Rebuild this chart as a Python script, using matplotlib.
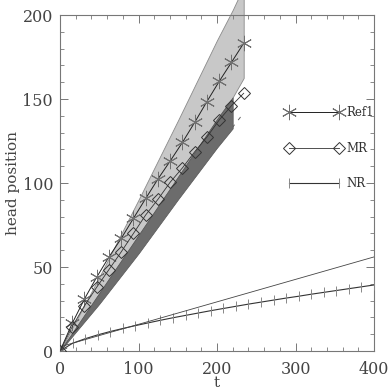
import numpy as np
import matplotlib
matplotlib.use("Agg")
import matplotlib.pyplot as plt
from matplotlib.ticker import MultipleLocator

# reference run (Ref1) and MR, sampled at the same times
t_ref = [0, 15.6, 31.2, 46.8, 62.4, 78, 93.6, 109.2, 124.8, 140.4, 156, 171.6, 187.2, 202.8, 218.4, 234]
ref1 = [0, 16.5, 31, 44, 56, 67, 79, 90.8, 102.4, 113.1, 124.2, 136.1, 148.5, 160.5, 171.8, 183.2]
mr = [0, 14.5, 27, 38, 48.5, 59, 70, 81, 90.3, 100.5, 109, 118.6, 127.4, 137.5, 146, 153.4]

# NR run
t_nr = [0, 16, 32, 48, 64, 80, 96, 112, 128, 144, 160, 176, 192, 208, 224,
        240, 256, 272, 288, 304, 320, 336, 352, 368, 384, 400]
nr = [0, 4.6, 7.3, 9.6, 11.6, 13.4, 15.1, 16.7, 18.3, 19.8, 21.2, 22.6, 24.0, 25.3, 26.6,
      27.9, 29.1, 30.3, 31.5, 32.6, 33.8, 34.9, 36.0, 37.1, 38.2, 39.3]

# thin reference line
t_lin = [0, 400]
lin = [2.5, 56]

# light band around Ref1
t_band1 = [0, 50, 100, 150, 200, 220, 234]
band1_hi = [0, 44, 90, 137, 185, 203, 217]
band1_lo = [0, 34.5, 69, 103.5, 138, 151, 162.5]

# dark band around MR
t_band2 = [0, 50, 100, 150, 200, 220]
band2_hi = [0, 34.5, 69, 103.5, 138, 151]
band2_lo = [0, 28, 58, 90, 121, 132.5]

# dashed lower bound
t_dash = [0, 234]
dash = [0, 141.7]

plt.rcParams['font.family'] = ['DejaVu Serif']
fig = plt.figure(figsize=(3.89, 3.91), dpi=100)
ax = fig.add_axes([60 / 389, 1 - 351 / 391, 314 / 389, 336 / 391])

ax.fill_between(t_band1, band1_lo, band1_hi, color='#c8c8c8', edgecolor='#8a8a8a',
                lw=0.6, zorder=1, clip_on=False)
ax.plot(t_dash, dash, ls=(0, (4, 6)), color='#666666', lw=0.7, zorder=1.5)
ax.fill_between(t_band2, band2_lo, band2_hi, color='#6c6c6c', edgecolor='#555555',
                lw=0.5, zorder=2)

gray = '#707070'
ax.plot(t_ref, ref1, color='#222222', lw=0.7, marker=(6, 2, 0), ms=11,
        mec=gray, mew=0.7, zorder=4, label='Ref1')
ax.plot(t_ref, mr, color='#333333', lw=0.6, marker='D', ms=6.3, mfc='none',
        mec='#333333', mew=0.7, zorder=4, label='MR')
ax.plot(t_nr, nr, color='#333333', lw=0.8, marker='|', ms=7.5, mec='#888888',
        mew=0.7, zorder=3, label='NR')
ax.plot(t_lin, lin, color='#444444', lw=0.6, zorder=3)

ax.set_xlim(0, 400)
ax.set_ylim(0, 200)
ax.xaxis.set_major_locator(MultipleLocator(100))
ax.xaxis.set_minor_locator(MultipleLocator(20))
ax.yaxis.set_major_locator(MultipleLocator(50))
ax.yaxis.set_minor_locator(MultipleLocator(10))
ax.tick_params(which='both', direction='in', top=True, right=True,
               color='#777777', labelcolor='#444444', labelsize=11.5)
ax.tick_params(which='major', length=6, width=0.7)
ax.tick_params(which='minor', length=3, width=0.6)
ax.tick_params(axis='x', pad=7)
ax.tick_params(axis='y', pad=5)
for s in ax.spines.values():
    s.set_color('#777777')
    s.set_linewidth(0.8)

ax.set_xlabel('t', color='#444444', fontsize=11, labelpad=-1)
ax.set_ylabel('head position', color='#444444', fontsize=11, labelpad=2)

leg = ax.legend(loc='upper left', bbox_to_anchor=(0.685, 0.76), frameon=False,
                numpoints=2, handlelength=4.8, handletextpad=0.3,
                labelspacing=1.9, fontsize=8.5)
for txt in leg.get_texts():
    txt.set_color('#333333')

fig.savefig('out.png', dpi=100)
